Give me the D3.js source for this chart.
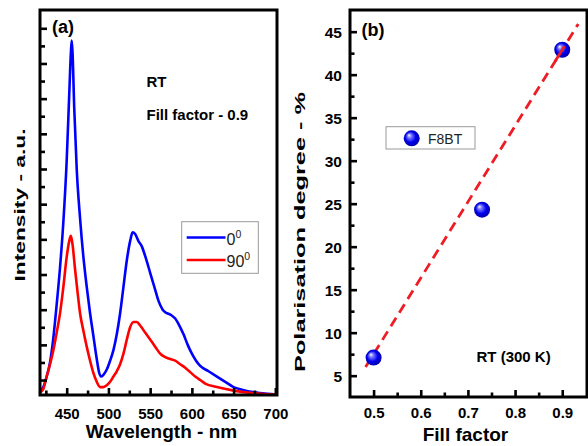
<!DOCTYPE html>
<html><head><meta charset="utf-8">
<script src="https://cdn.jsdelivr.net/npm/d3@7"></script>
<style>body{margin:0;background:#fff}svg{display:block}text{font-family:"Liberation Sans",Arial,sans-serif}</style>
</head><body><svg id="c" width="588" height="446"></svg>
<script>
// ---- Panel (a) data: PL spectra ----
const wavelength = [418,422,426,430,434,438,442,446,450,453,455,456,457,459,462,466,470,474,478,482,486,489,491,494,498,502,506,510,514,518,522,526,529,532,536,540,545,550,555,560,565,570,575,580,585,590,595,600,605,610,620,630,640,650,660,675,690,702];
const int0 = [-0.07,-0.04,0.02,0.10,0.24,0.43,0.64,0.90,1.25,1.62,1.86,1.93,1.86,1.55,1.20,0.92,0.70,0.53,0.38,0.25,0.12,0.04,0.02,0.03,0.06,0.11,0.17,0.26,0.38,0.53,0.68,0.79,0.84,0.83,0.79,0.76,0.69,0.61,0.53,0.45,0.40,0.38,0.37,0.35,0.31,0.26,0.20,0.15,0.11,0.08,0.05,0.02,-0.01,-0.04,-0.055,-0.07,-0.078,-0.082];
const wavelength90 = [418,422,426,430,434,438,442,446,450,453,455,457,460,463,466,470,474,478,482,486,490,494,498,502,506,510,514,518,522,526,530,534,538,544,550,556,562,568,574,580,586,592,598,604,610,616,630,650,675,702];
const int90 = [-0.07,-0.05,0.02,0.09,0.17,0.27,0.38,0.53,0.70,0.79,0.82,0.77,0.63,0.50,0.38,0.28,0.19,0.11,0.04,-0.01,-0.04,-0.04,-0.03,-0.01,0.02,0.05,0.09,0.15,0.23,0.30,0.33,0.33,0.31,0.27,0.23,0.19,0.15,0.13,0.12,0.11,0.09,0.07,0.045,0.02,0.00,-0.02,-0.04,-0.06,-0.075,-0.082];
const xTicksA = [450,500,550,600,650,700];
const xMinorA = [425,475,525,575,625,675];
const yTicksA = d3.range(0,21).map(i=>i/10);
const seriesNames = ["0","90"];

// ---- Panel (b) data: polarisation degree ----
const fillFactor = [0.5,0.73,0.9];
const polarisation = [7.1,24.3,42.9];
const fitX = [0.483,0.934];
const fitY = [6.0,45.9];
const xTicksB = [0.5,0.6,0.7,0.8,0.9];
const xMinorB = [0.55,0.65,0.75,0.85];
const yTicksB = [5,10,15,20,25,30,35,40,45];
const yMinorB = [7.5,12.5,17.5,22.5,27.5,32.5,37.5,42.5];

const svg = d3.select("#c");
const blue = "#0000ff", red = "#ff0000";

// ===== Panel (a) =====
const A = {l:40,t:10,r:277,b:395};
const xA = d3.scaleLinear([418,702],[A.l,A.r]);
const yA = d3.scaleLinear([-0.085,2.104],[A.b,A.t]);

svg.append("clipPath").attr("id","clipA").append("rect")
  .attr("x",A.l).attr("y",A.t).attr("width",A.r-A.l).attr("height",A.b-A.t);

const line = d3.line().curve(d3.curveMonotoneX);
const gA = svg.append("g").attr("clip-path","url(#clipA)");
gA.append("path").attr("d",line(wavelength.map((w,i)=>[xA(w),yA(int0[i])])))
  .attr("fill","none").attr("stroke",blue).attr("stroke-width",2.6).attr("stroke-linejoin","round");
gA.append("path").attr("d",line(wavelength90.map((w,i)=>[xA(w),yA(int90[i])])))
  .attr("fill","none").attr("stroke",red).attr("stroke-width",2.6).attr("stroke-linejoin","round");

function styleAxis(g, size){
  g.select(".domain").remove();
  g.selectAll("line").attr("stroke","#000").attr("stroke-width",2.6);
  g.selectAll("text").attr("font-family","'Liberation Sans',Arial,sans-serif")
    .attr("font-weight","bold").attr("font-size",size).attr("fill","#000");
}
const axA = svg.append("g").attr("transform",`translate(0,${A.b})`)
  .call(d3.axisBottom(xA).tickValues(xTicksA).tickSize(-7).tickSizeOuter(0).tickPadding(13).tickFormat(d3.format("d")));
styleAxis(axA,15);
const axAm = svg.append("g").attr("transform",`translate(0,${A.b})`)
  .call(d3.axisBottom(xA).tickValues(xMinorA).tickSize(-4.5).tickSizeOuter(0).tickFormat(""));
styleAxis(axAm,15);
const ayA = svg.append("g").attr("transform",`translate(${A.l},0)`)
  .call(d3.axisLeft(yA).tickValues(yTicksA.filter((d,i)=>i%2===0)).tickSize(-7).tickSizeOuter(0).tickFormat(""));
styleAxis(ayA,15);
const ayAm = svg.append("g").attr("transform",`translate(${A.l},0)`)
  .call(d3.axisLeft(yA).tickValues(yTicksA.filter((d,i)=>i%2===1)).tickSize(-5).tickSizeOuter(0).tickFormat(""));
styleAxis(ayAm,15);

svg.append("rect").attr("x",A.l).attr("y",A.t).attr("width",A.r-A.l).attr("height",A.b-A.t)
  .attr("fill","none").attr("stroke","#000").attr("stroke-width",3);

svg.append("text").attr("x",52).attr("y",33).attr("font-weight","bold").attr("font-size",18).text("(a)");
svg.append("text").attr("x",146.5).attr("y",87.3).attr("font-weight","bold").attr("font-size",15).text("RT");
svg.append("text").attr("x",146.5).attr("y",120).attr("font-weight","bold").attr("font-size",15).text("Fill factor - 0.9");

// legend a
svg.append("rect").attr("x",181.7).attr("y",221.7).attr("width",76.6).attr("height",51.6)
  .attr("fill","#fff").attr("stroke","#999").attr("stroke-width",1);
[[blue,237.5,245],[red,260,267]].forEach((d,i)=>{
  svg.append("line").attr("x1",186.7).attr("x2",225.5).attr("y1",d[1]).attr("y2",d[1])
    .attr("stroke",d[0]).attr("stroke-width",2.6);
  const t = svg.append("text").attr("x",226.5).attr("y",d[2]).attr("font-size",16).attr("fill","#222");
  t.append("tspan").text(seriesNames[i]);
  t.append("tspan").attr("font-size",10.5).attr("dy",-7.5).text("0");
});

svg.append("text").attr("transform","translate(25,205) rotate(-90)").attr("text-anchor","middle")
  .attr("font-weight","bold").attr("font-size",14).attr("textLength",153).attr("lengthAdjust","spacingAndGlyphs")
  .text("Intensity - a.u.");
svg.append("text").attr("x",(A.l+A.r)/2+3).attr("y",438).attr("text-anchor","middle")
  .attr("font-weight","bold").attr("font-size",19).text("Wavelength - nm");

// ===== Panel (b) =====
const B = {l:350,t:10,r:587,b:397};
const xB = d3.scaleLinear([0.45,0.9525],[B.l,B.r]);
const yB = d3.scaleLinear([2.52,47.52],[B.b,B.t]);

const defs = svg.append("defs");
const grad = defs.append("radialGradient").attr("id","sph").attr("cx","50%").attr("cy","50%").attr("r","55%")
  .attr("fx","32%").attr("fy","30%");
grad.append("stop").attr("offset","0%").attr("stop-color","#ffffff");
grad.append("stop").attr("offset","22%").attr("stop-color","#8080ff");
grad.append("stop").attr("offset","60%").attr("stop-color","#0000f0");
grad.append("stop").attr("offset","100%").attr("stop-color","#00009a");

const axB = svg.append("g").attr("transform",`translate(0,${B.b})`)
  .call(d3.axisBottom(xB).tickValues(xTicksB).tickSize(-7).tickSizeOuter(0).tickPadding(10).tickFormat(d3.format(".1f")));
styleAxis(axB,15);
const axBm = svg.append("g").attr("transform",`translate(0,${B.b})`)
  .call(d3.axisBottom(xB).tickValues(xMinorB).tickSize(-4.5).tickSizeOuter(0).tickFormat(""));
styleAxis(axBm,15);
const ayB = svg.append("g").attr("transform",`translate(${B.l},0)`)
  .call(d3.axisLeft(yB).tickValues(yTicksB).tickSize(-7).tickSizeOuter(0).tickPadding(8).tickFormat(d3.format("d")));
styleAxis(ayB,15.5);
ayB.selectAll("text").attr("dy","0.35em");
const ayBm = svg.append("g").attr("transform",`translate(${B.l},0)`)
  .call(d3.axisLeft(yB).tickValues(yMinorB).tickSize(-4.5).tickSizeOuter(0).tickFormat(""));
styleAxis(ayBm,15);

svg.append("path").attr("d",d3.line()(fitX.map((x,i)=>[xB(x),yB(fitY[i])])))
  .attr("fill","none").attr("stroke","#ee1c24").attr("stroke-width",2.8).attr("stroke-dasharray","10,6");

svg.selectAll("circle.pt").data(fillFactor).join("circle").attr("class","pt")
  .attr("cx",d=>xB(d)).attr("cy",(d,i)=>yB(polarisation[i])).attr("r",8).attr("fill","url(#sph)");
// dashed segment visible over the top point, as in the reference
const fitAt = x => fitY[0]+(x-fitX[0])*(fitY[1]-fitY[0])/(fitX[1]-fitX[0]);
svg.append("path").attr("d",d3.line()([[xB(0.885),yB(fitAt(0.885))],[xB(0.905),yB(fitAt(0.905))]]))
  .attr("stroke","#ee1c24").attr("stroke-width",2.8);

svg.append("rect").attr("x",B.l).attr("y",B.t).attr("width",B.r-B.l).attr("height",B.b-B.t)
  .attr("fill","none").attr("stroke","#000").attr("stroke-width",3);

svg.append("text").attr("x",361.5).attr("y",36).attr("font-weight","bold").attr("font-size",18).text("(b)");
svg.append("text").attr("x",476.5).attr("y",361.7).attr("font-weight","bold").attr("font-size",15).text("RT (300 K)");

// legend b
svg.append("rect").attr("x",386).attr("y",126.7).attr("width",89).attr("height",22.3)
  .attr("fill","#fff").attr("stroke","#999").attr("stroke-width",1);
svg.append("circle").attr("cx",411.7).attr("cy",138.3).attr("r",8).attr("fill","url(#sph)");
svg.append("text").attr("x",428).attr("y",143.5).attr("font-size",14).attr("fill","#222").text("F8BT");

svg.append("text").attr("transform","translate(305,232) rotate(-90)").attr("text-anchor","middle")
  .attr("font-weight","bold").attr("font-size",14.5).attr("textLength",280).attr("lengthAdjust","spacingAndGlyphs")
  .text("Polarisation degree - %");
svg.append("text").attr("x",465.5).attr("y",440.5).attr("text-anchor","middle")
  .attr("font-weight","bold").attr("font-size",19).text("Fill factor");
</script></body></html>
